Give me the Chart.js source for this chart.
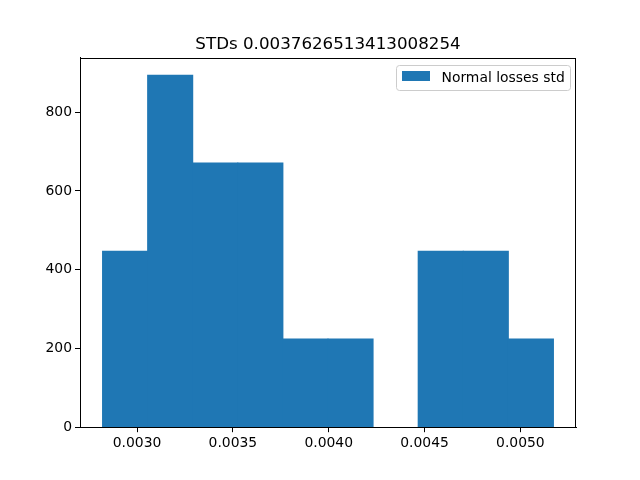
<!DOCTYPE html>
<html>
<head>
<meta charset="utf-8">
<script src="https://cdn.jsdelivr.net/npm/chart.js@4/dist/chart.umd.min.js"></script>
<style>
html,body{margin:0;padding:0;background:#fff;}
canvas{display:block;}
</style>
</head>
<body>
<canvas id="c" width="640" height="480"></canvas>
<script>
const titleText = "STDs 0.0037626513413008254";
const seriesLabel = "Normal losses std";
const binEdges = [0.0028201, 0.0030553, 0.0032906, 0.0035258, 0.0037611, 0.0039963, 0.0042316, 0.0044668, 0.0047021, 0.0049373, 0.0051726];
const densities = [447, 894, 671, 671, 224, 224, 0, 447, 447, 224];
const xTickStep = 0.0005;
const yTickStep = 200;

const barColor = "#1f77b4";
const FONT = "'DejaVu Sans', sans-serif";

// empty bins are not drawn (like a histogram with an empty bin)
const points = densities.map((v, i) => ({x: (binEdges[i] + binEdges[i + 1]) / 2, y: v === 0 ? null : v}));

const xSpan = binEdges[binEdges.length - 1] - binEdges[0];
const xMin = binEdges[0] - 0.05 * xSpan;
const xMax = binEdges[binEdges.length - 1] + 0.05 * xSpan;
const yMax = Math.max(...densities) * 1.05;

const decorPlugin = {
  id: 'decor',
  afterDraw(chart) {
    const ctx = chart.ctx, a = chart.chartArea;
    ctx.save();
    ctx.strokeStyle = '#000';
    ctx.lineWidth = 1;
    ctx.strokeRect(Math.round(a.left) + 0.5, Math.round(a.top) + 0.5, Math.round(a.right - a.left) - 1, Math.round(a.bottom - a.top) - 1);
    // title
    ctx.fillStyle = '#000';
    ctx.font = "16.7px " + FONT;
    ctx.textAlign = 'center';
    ctx.textBaseline = 'alphabetic';
    ctx.fillText(titleText, (a.left + a.right) / 2, a.top - 8.5);
    // legend
    const bx = 396.5, by = 65.5, bw = 174, bh = 25, r = 3;
    ctx.beginPath();
    ctx.moveTo(bx + r, by);
    ctx.lineTo(bx + bw - r, by);
    ctx.quadraticCurveTo(bx + bw, by, bx + bw, by + r);
    ctx.lineTo(bx + bw, by + bh - r);
    ctx.quadraticCurveTo(bx + bw, by + bh, bx + bw - r, by + bh);
    ctx.lineTo(bx + r, by + bh);
    ctx.quadraticCurveTo(bx, by + bh, bx, by + bh - r);
    ctx.lineTo(bx, by + r);
    ctx.quadraticCurveTo(bx, by, bx + r, by);
    ctx.closePath();
    ctx.fillStyle = 'rgba(255,255,255,0.8)';
    ctx.fill();
    ctx.strokeStyle = '#cccccc';
    ctx.stroke();
    ctx.fillStyle = barColor;
    ctx.fillRect(402, 71, 28, 10);
    ctx.fillStyle = '#000';
    ctx.font = "13.9px " + FONT;
    ctx.textAlign = 'left';
    ctx.fillText(seriesLabel, 441.5, 81.5);
    ctx.restore();
  }
};

new Chart(document.getElementById('c'), {
  type: 'bar',
  data: {
    datasets: [{
      label: seriesLabel,
      data: points,
      backgroundColor: barColor,
      borderWidth: 0,
      inflateAmount: 0.5,
      barPercentage: 1,
      categoryPercentage: 1
    }]
  },
  options: {
    responsive: false,
    animation: false,
    devicePixelRatio: 1,
    layout: {padding: {left: 0, right: 64, top: 57.6, bottom: 0}},
    plugins: {
      legend: {display: false},
      tooltip: {enabled: false},
      title: {display: false}
    },
    scales: {
      x: {
        type: 'linear',
        min: xMin,
        max: xMax,
        offset: false,
        afterFit(scale) { scale.height = 52.8; },
        ticks: {
          stepSize: xTickStep,
          includeBounds: false,
          color: '#000',
          font: {family: FONT, size: 13.9},
          padding: 3,
          maxRotation: 0,
          autoSkip: false,
          callback: v => v.toFixed(4)
        },
        grid: {display: true, offset: false, drawOnChartArea: false, drawTicks: true, tickLength: 5, color: '#000'},
        border: {display: true, color: '#000', width: 1}
      },
      y: {
        min: 0,
        max: yMax,
        afterFit(scale) { scale.width = 80; },
        ticks: {
          stepSize: yTickStep,
          includeBounds: false,
          color: '#000',
          font: {family: FONT, size: 13.9},
          padding: 3,
          callback: v => String(v)
        },
        grid: {display: true, offset: false, drawOnChartArea: false, drawTicks: true, tickLength: 5, color: '#000'},
        border: {display: true, color: '#000', width: 1}
      }
    }
  },
  plugins: [decorPlugin]
});
</script>
</body>
</html>
